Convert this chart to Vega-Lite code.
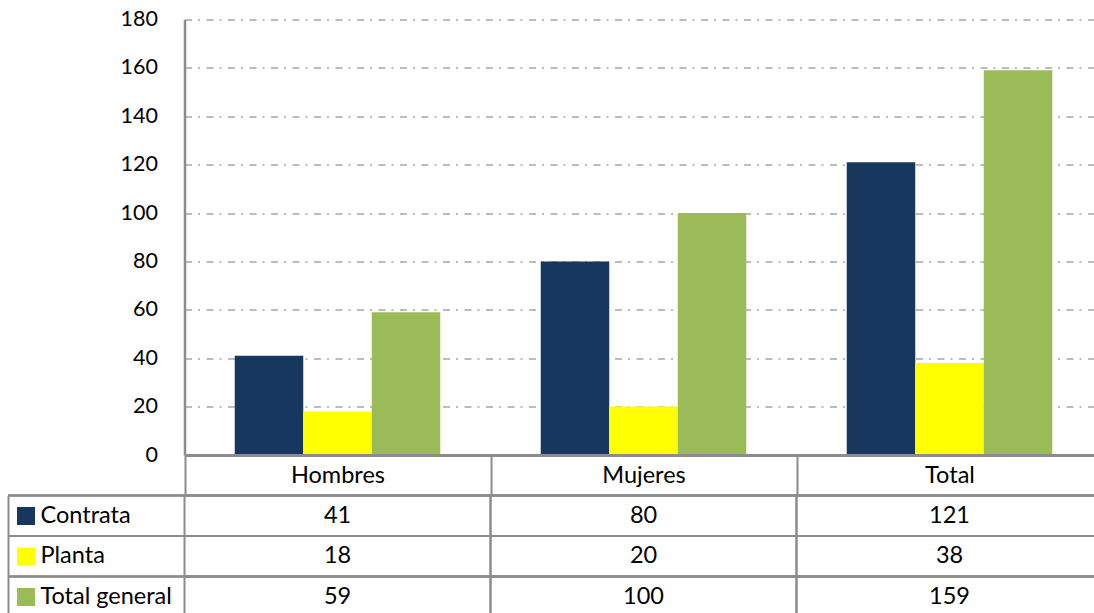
{
  "$schema": "https://vega.github.io/schema/vega-lite/v6.json",
  "autosize": "none",
  "padding": {"left": 8, "top": 19.5, "right": 0, "bottom": 0},
  "background": "white",
  "width": 1086,
  "height": 593.5,
  "config": {"font": "Lato", "view": {"stroke": null}},
  "data": {"values": [
    {"category": "Hombres", "series": "Contrata", "value": 41},
    {"category": "Hombres", "series": "Planta", "value": 18},
    {"category": "Hombres", "series": "Total general", "value": 59},
    {"category": "Mujeres", "series": "Contrata", "value": 80},
    {"category": "Mujeres", "series": "Planta", "value": 20},
    {"category": "Mujeres", "series": "Total general", "value": 100},
    {"category": "Total", "series": "Contrata", "value": 121},
    {"category": "Total", "series": "Planta", "value": 38},
    {"category": "Total", "series": "Total general", "value": 159}
  ]},
  "resolve": {"scale": {"x": "independent", "y": "independent"}, "axis": {"x": "independent", "y": "independent"}},
  "layer": [
    {
      "mark": {"type": "bar"},
      "encoding": {
        "x": {
          "field": "category", "type": "nominal",
          "scale": {"domain": ["Hombres", "Mujeres", "Total"], "range": [176.5, 1094.5], "paddingInner": 0.3284, "paddingOuter": 0.1642},
          "axis": {"title": null, "orient": "bottom", "offset": -158, "zindex": 1, "domainColor": "#8c8c8c", "domainWidth": 3,
                   "ticks": true, "tickSize": 40.5, "tickOffset": -153, "labelOffset": 153, "tickColor": "#8c8c8c", "tickWidth": 2,
                   "labelFont": "Lato", "labelFontSize": 23.5, "labelColor": "#000000", "labelBaseline": "middle",
                   "labelPadding": -20, "labelAngle": 0}
        },
        "xOffset": {"field": "series", "type": "nominal", "scale": {"domain": ["Contrata", "Planta", "Total general"], "paddingInner": 0, "paddingOuter": 0}},
        "y": {
          "field": "value", "type": "quantitative",
          "scale": {"domain": [0, 180], "nice": false, "zero": true, "range": [435.5, 0]},
          "axis": {"title": null, "orient": "left", "offset": -176.5, "values": [0, 20, 40, 60, 80, 100, 120, 140, 160, 180],
                   "ticks": false, "labelPadding": 27, "labelFont": "Lato", "labelFontSize": 21.5, "labelColor": "#000000",
                   "domainColor": "#8c8c8c", "domainWidth": 2.5, "grid": true, "gridColor": "#a6a6a6",
                   "gridDash": [7, 6, 2, 6.5], "gridWidth": 1.5}
        },
        "color": {
          "field": "series", "type": "nominal",
          "scale": {"domain": ["Contrata", "Planta", "Total general"], "range": ["#17375E", "#FFFF00", "#9BBB59"]},
          "legend": {"orient": "none", "legendX": 9, "legendY": 487.5, "title": null, "symbolType": "square",
                     "symbolSize": 324, "symbolStrokeWidth": 0, "symbolOpacity": 1, "labelExpr": "''",
                     "labelFontSize": 1, "rowPadding": 22.5, "padding": 0, "direction": "vertical"}
        }
      }
    },
    {
      "layer": [
        {
          "mark": {"type": "rule", "color": "#8c8c8c", "strokeWidth": 2},
          "encoding": {
            "y": {"field": "series", "type": "nominal", "bandPosition": 0,
                  "scale": {"domain": ["Contrata", "Planta", "Total general"], "range": [476, 597.5], "paddingInner": 0, "paddingOuter": 0},
                  "axis": {"title": null, "orient": "left", "ticks": false, "domainColor": "#8c8c8c", "domainWidth": 2,
                           "labelAlign": "left", "labelPadding": -32, "labelFont": "Lato", "labelFontSize": 23.5,
                           "labelColor": "#000000", "labelBaseline": "middle"}}
          }
        },
        {
          "mark": {"type": "rect", "fill": "transparent", "stroke": "#8c8c8c", "strokeWidth": 2},
          "encoding": {
            "x": {"field": "category", "type": "nominal",
                  "scale": {"domain": ["Hombres", "Mujeres", "Total"], "range": [176.5, 1094.5], "paddingInner": 0, "paddingOuter": 0},
                  "axis": null},
            "y": {"field": "series", "type": "nominal"}
          }
        },
        {
          "mark": {"type": "text", "font": "Lato", "fontSize": 23.5, "color": "#000000", "align": "center", "baseline": "middle"},
          "encoding": {
            "x": {"field": "category", "type": "nominal"},
            "y": {"field": "series", "type": "nominal"},
            "text": {"field": "value", "type": "quantitative"}
          }
        }
      ]
    }
  ]
}
